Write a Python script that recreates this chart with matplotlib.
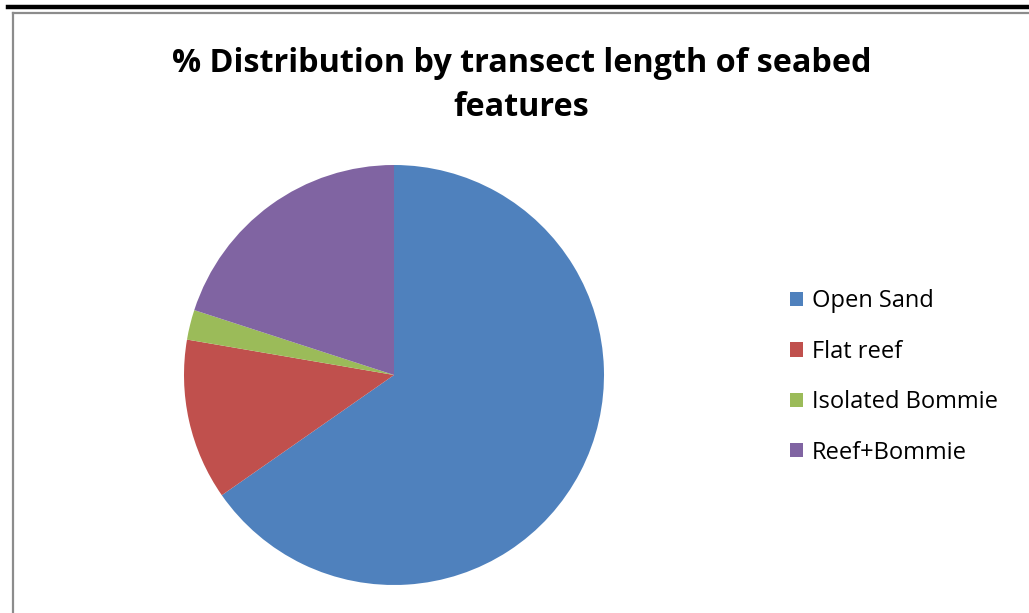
import matplotlib.pyplot as plt
from matplotlib.lines import Line2D

# seabed feature shares along the transect (%)
features = ['Open Sand', 'Flat reef', 'Isolated Bommie', 'Reef+Bommie']
shares = [65.3, 12.4, 2.3, 20.0]
colours = ['#4F81BD', '#C0504D', '#9BBB59', '#8064A2']

W, H = 1029, 613
fig = plt.figure(figsize=(W / 100, H / 100), dpi=100)
fig.patch.set_facecolor('white')

# black rule across the top and grey chart frame
fig.add_artist(Line2D([8 / W, 1], [1 - 6.5 / H, 1 - 6.5 / H], color='black', lw=3.2))
fig.add_artist(Line2D([13 / W, 1], [1 - 13 / H, 1 - 13 / H], color='#8c8c8c', lw=1.6))
fig.add_artist(Line2D([13 / W, 13 / W], [0, 1 - 13 / H], color='#8c8c8c', lw=1.6))

title_kw = dict(ha='center', va='center', fontsize=23.3, fontweight='bold', family='Open Sans')
fig.text(522 / W, 1 - 63 / H, '% Distribution by transect length of seabed', **title_kw)
fig.text(521 / W, 1 - 108 / H, 'features', **title_kw)

r = 210
cx, cy = 394, 375
ax = fig.add_axes([(cx - r) / W, 1 - (cy + r) / H, 2 * r / W, 2 * r / H])
wedges, _ = ax.pie(shares, colors=colours, startangle=90, counterclock=False,
                   radius=1.0)
ax.set_xlim(-1, 1)
ax.set_ylim(-1, 1)
ax.set_aspect('equal')
ax.axis('off')

fig.legend(wedges, features, loc='center left', bbox_to_anchor=(790 / W, 1 - 377 / H),
           frameon=False, prop={'family': 'Open Sans', 'size': 17},
           handlelength=0.55, handleheight=0.55, handletextpad=0.38,
           labelspacing=1.12, borderpad=0, borderaxespad=0)

fig.savefig('out.png', dpi=100)
